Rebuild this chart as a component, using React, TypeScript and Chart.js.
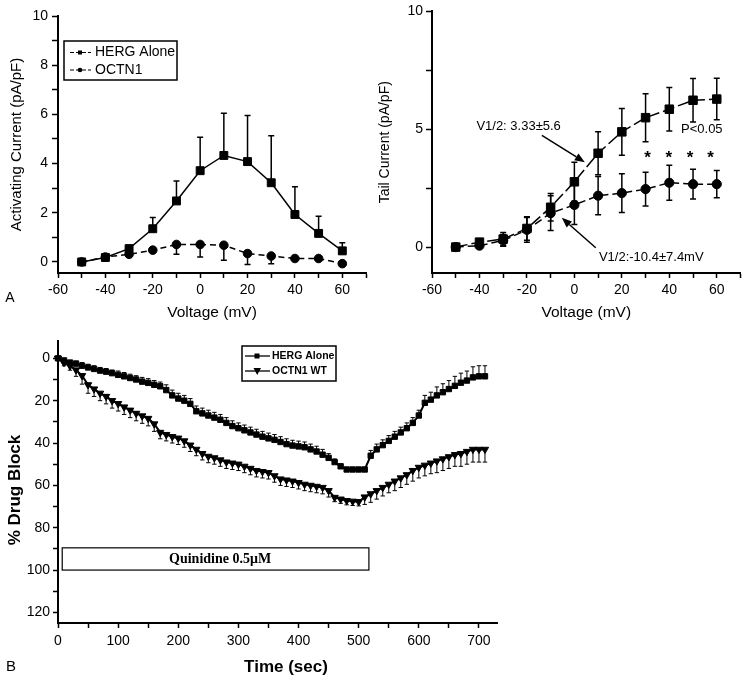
import React, { useEffect, useRef } from 'react';
import { Chart, registerables } from 'chart.js';

Chart.register(...registerables);

const SANS = '"Liberation Sans", Arial, Helvetica, sans-serif';
const SERIF = '"Liberation Serif", "Times New Roman", serif';

// ---------- Panel A data ----------
const voltages = [-50, -40, -30, -20, -10, 0, 10, 20, 30, 40, 50, 60];
const activatingHerg = [0, 0.18, 0.54, 1.35, 2.48, 3.71, 4.33, 4.08, 3.22, 1.93, 1.16, 0.45];
const activatingHergErr = [0, 0, 0.14, 0.46, 0.81, 1.36, 1.72, 1.87, 1.91, 1.13, 0.7, 0.33];
const activatingOctn = [0, 0.2, 0.31, 0.48, 0.71, 0.71, 0.68, 0.34, 0.24, 0.14, 0.14, -0.07];
const activatingOctnErr = [0, 0, 0, 0, 0.4, 0.51, 0.61, 0.44, 0.31, 0, 0, 0];

const tailHerg = [0, 0.21, 0.34, 0.79, 1.69, 2.77, 3.98, 4.89, 5.49, 5.85, 6.23, 6.28];
const tailHergErr = [0, 0.05, 0.28, 0.5, 0.58, 0.83, 0.91, 0.99, 1.02, 0.92, 0.92, 0.88];
const tailOctn = [0, 0.06, 0.28, 0.73, 1.44, 1.79, 2.18, 2.29, 2.46, 2.73, 2.67, 2.67];
const tailOctnErr = [0, 0.05, 0.25, 0.52, 0.74, 0.83, 0.81, 0.82, 0.72, 0.74, 0.63, 0.58];

const voltageTicks = [-60, -50, -40, -30, -20, -10, 0, 10, 20, 30, 40, 50, 60, 70];
const voltageLabels = [-60, -40, -20, 0, 20, 40, 60];
const activatingTicks = [0, 1, 2, 3, 4, 5, 6, 7, 8, 9, 10];
const activatingLabels = [0, 2, 4, 6, 8, 10];
const tailTicks = [0, 2.5, 5, 7.5, 10];
const tailLabels = [0, 5, 10];
const starVoltages = [30.8, 39.8, 48.7, 57.4];
const starLevel = 3.75;

// ---------- Panel B data ----------
const times = [0, 10, 20, 30, 40, 50, 60, 70, 80, 90, 100, 110, 120, 130, 140, 150, 160, 170, 180, 190,
  200, 210, 220, 230, 240, 250, 260, 270, 280, 290, 300, 310, 320, 330, 340, 350, 360, 370, 380, 390,
  400, 410, 420, 430, 440, 450, 460, 470, 480, 490, 500, 510, 520, 530, 540, 550, 560, 570, 580, 590,
  600, 610, 620, 630, 640, 650, 660, 670, 680, 690, 700, 710];
const blockHerg = [0, 1, 2, 2.5, 3.5, 4.3, 5, 5.8, 6.3, 7, 7.8, 8.5, 9.3, 10, 11, 11.6, 12.5, 13.2, 15, 17.5,
  19, 20, 21.5, 25, 26, 27, 28, 29, 30.5, 32, 33, 34, 35, 36, 37, 37.8, 38.5, 39.5, 40.5, 41.2,
  41.6, 42, 43, 44, 45.5, 47, 49, 51, 52.5, 52.5, 52.5, 52.5, 46, 43, 41, 39, 37, 35, 33, 30.5,
  27, 21, 19.5, 17.5, 16, 14.5, 13, 11.5, 10.5, 9, 8.5, 8.5];
const blockHergErr = [0.5, 1, 1, 1.2, 1.5, 1.5, 1.5, 1.5, 1.5, 1.5, 1.8, 1.8, 1.8, 1.8, 2, 2, 2, 2, 2.5, 2.5,
  2.5, 2.5, 2.5, 2.5, 2.5, 2.5, 2.5, 2.5, 2.5, 2.5, 2.5, 2.5, 2.5, 2.5, 2.5, 2.5, 2.5, 2.5, 2.5, 2.5,
  2.5, 2.5, 2.5, 2.5, 2.5, 2, 1.5, 1, 0.5, 0.5, 0.5, 0.5, 2.5, 2.5, 2.5, 2.5, 2.5, 2.5, 2.5, 2.5,
  2.5, 3.5, 3.5, 4, 4, 4, 4.5, 4.5, 4.5, 5, 5, 5];
const blockOctn = [0, 2, 3.6, 5.5, 8.2, 12.5, 14.5, 16.5, 18, 20, 21.4, 23, 24.5, 26, 27.2, 28.4, 31, 35, 36, 37,
  37.7, 39, 41, 43, 45, 46.3, 47, 48, 49, 49.5, 50, 51, 52, 53, 53.5, 54, 55.5, 57, 57.5, 58,
  58.7, 59.5, 60, 60.5, 61, 62.5, 65.7, 66.5, 67.2, 67.5, 67.7, 65.5, 64, 62.5, 61, 59.5, 58, 56.5, 55, 53,
  51.5, 50.5, 49.5, 48.5, 47.5, 46.5, 45.5, 45, 44, 43, 43, 43];
const blockOctnErr = [0.5, 1.5, 2, 3, 4, 4, 3.5, 3.5, 3.5, 3.5, 3.5, 3.5, 3.5, 3.5, 3.5, 3.5, 3.5, 3, 3, 3,
  3, 3, 3, 3, 3, 3, 3, 3, 3, 3, 3, 3, 3, 3, 3, 3, 3, 3, 3, 3,
  3, 3, 3, 3, 3, 3, 2, 2, 2, 2, 2, 3.5, 4, 4, 4, 4, 4.5, 4.5, 4.5, 5,
  5, 5, 5, 5.5, 5.5, 5.5, 5.5, 6, 6, 6, 6, 6];
const timeTicks = [0, 50, 100, 150, 200, 250, 300, 350, 400, 450, 500, 550, 600, 650, 700];
const timeLabels = [0, 100, 200, 300, 400, 500, 600, 700];
const blockTicks = [0, 10, 20, 30, 40, 50, 60, 70, 80, 90, 100, 110, 120];
const blockLabels = [0, 20, 40, 60, 80, 100, 120];
const quinidineStart = 7;
const quinidineEnd = 517;
const quinidineTop = 89.5;
const quinidineBottom = 100;

// ---------- helpers ----------
function makeScale(o: any) {
  const isX = o.axis === 'x';
  return {
    type: 'linear',
    position: isX ? 'bottom' : 'left',
    min: o.min,
    max: o.max,
    reverse: !!o.reverse,
    afterBuildTicks: (s: any) => { s.ticks = o.ticks.map((v: number) => ({ value: v })); },
    afterFit: (s: any) => { if (isX) s.height = o.size; else s.width = o.size; },
    grid: { display: true, drawOnChartArea: false, drawTicks: true, tickLength: o.tickLength, tickWidth: 1.5, tickColor: '#000', color: '#000' },
    border: { display: true, color: '#000', width: 2 },
    ticks: {
      autoSkip: false, maxRotation: 0, minRotation: 0, padding: o.padding, color: '#000',
      font: { family: SANS, size: o.fontSize },
      callback: (v: number) => (o.labels.includes(v) ? String(v) : ''),
    },
    title: o.title
      ? { display: true, text: o.title.text, color: '#000', font: { family: SANS, size: o.title.size, weight: o.title.weight || 'normal' }, padding: o.title.padding }
      : { display: false },
  };
}

const errorBarPlugin = {
  id: 'errorBars',
  beforeDatasetsDraw(chart: any) {
    const ctx = chart.ctx;
    chart.data.datasets.forEach((ds: any, di: number) => {
      const eb = ds.errorBars;
      if (!eb) return;
      const meta = chart.getDatasetMeta(di);
      const xs = chart.scales[meta.xAxisID];
      const ys = chart.scales[meta.yAxisID];
      ctx.save();
      ctx.strokeStyle = '#000';
      ctx.lineWidth = eb.width;
      ds.data.forEach((pt: any, i: number) => {
        const x = xs.getPixelForValue(pt.x);
        const y0 = ys.getPixelForValue(pt.y);
        const ends: number[] = [];
        if (eb.plus && eb.plus[i]) ends.push(ys.getPixelForValue(pt.y + eb.plus[i]));
        if (eb.minus && eb.minus[i]) ends.push(ys.getPixelForValue(pt.y - eb.minus[i]));
        ends.forEach((ye) => {
          ctx.beginPath();
          ctx.moveTo(x, y0);
          ctx.lineTo(x, ye);
          ctx.moveTo(x - eb.cap, ye);
          ctx.lineTo(x + eb.cap, ye);
          ctx.stroke();
        });
      });
      ctx.restore();
    });
  },
};

function text(ctx: any, s: string, x: number, y: number, font: string, align = 'center', rot = 0) {
  ctx.save();
  ctx.fillStyle = '#000';
  ctx.font = font;
  ctx.textAlign = align;
  ctx.textBaseline = 'middle';
  ctx.translate(x, y);
  if (rot) ctx.rotate(rot);
  ctx.fillText(s, 0, 0);
  ctx.restore();
}

function arrow(ctx: any, x1: number, y1: number, x2: number, y2: number) {
  const a = Math.atan2(y2 - y1, x2 - x1);
  const L = 10, W = 4;
  ctx.save();
  ctx.strokeStyle = '#000';
  ctx.fillStyle = '#000';
  ctx.lineWidth = 1.5;
  ctx.beginPath();
  ctx.moveTo(x1, y1);
  ctx.lineTo(x2 - L * Math.cos(a), y2 - L * Math.sin(a));
  ctx.stroke();
  ctx.beginPath();
  ctx.moveTo(x2, y2);
  ctx.lineTo(x2 - L * Math.cos(a) + W * Math.sin(a), y2 - L * Math.sin(a) - W * Math.cos(a));
  ctx.lineTo(x2 - L * Math.cos(a) - W * Math.sin(a), y2 - L * Math.sin(a) + W * Math.cos(a));
  ctx.closePath();
  ctx.fill();
  ctx.restore();
}

function pts(xs: number[], ys: number[]) {
  return xs.map((x, i) => ({ x, y: ys[i] }));
}

const baseOptions = {
  responsive: false,
  animation: false,
  events: [],
  plugins: { legend: { display: false }, tooltip: { enabled: false } },
};

// ---------- Panel A left ----------
function configActivating(): any {
  const legendPlugin = {
    id: 'legendA',
    afterDraw(chart: any) {
      const ctx = chart.ctx;
      ctx.save();
      ctx.strokeStyle = '#000';
      ctx.lineWidth = 1.5;
      ctx.strokeRect(64, 41, 113, 39);
      ctx.lineWidth = 1.2;
      ctx.setLineDash([4, 2]);
      [52.5, 70].forEach((y) => {
        ctx.beginPath();
        ctx.moveTo(70, y);
        ctx.lineTo(91, y);
        ctx.stroke();
      });
      ctx.setLineDash([]);
      ctx.fillStyle = '#000';
      ctx.fillRect(78, 50.5, 4, 4);
      ctx.beginPath();
      ctx.arc(80, 70, 2.3, 0, Math.PI * 2);
      ctx.fill();
      ctx.restore();
      text(ctx, 'HERG Alone', 95, 52.5, `14px ${SANS}`, 'left');
      text(ctx, 'OCTN1', 95, 70, `14px ${SANS}`, 'left');
      text(ctx, 'A', 10, 298, `14px ${SANS}`, 'center');
    },
  };
  return {
    type: 'line',
    data: {
      datasets: [
        {
          label: 'HERG Alone', data: pts(voltages, activatingHerg), borderColor: '#000', backgroundColor: '#000',
          borderWidth: 1.5, pointStyle: 'rect', pointRadius: 5.6, pointBorderWidth: 1, clip: false,
          errorBars: { plus: activatingHergErr, width: 1.5, cap: 3 },
        },
        {
          label: 'OCTN1', data: pts(voltages, activatingOctn), borderColor: '#000', backgroundColor: '#000',
          borderWidth: 1.5, borderDash: [6, 4], pointStyle: 'circle', pointRadius: 4.3, pointBorderWidth: 1, clip: false,
          errorBars: { minus: activatingOctnErr, width: 1.5, cap: 3 },
        },
      ],
    },
    options: {
      ...baseOptions,
      layout: { padding: { left: 0, top: 16, right: 8, bottom: 0 } },
      scales: {
        x: makeScale({ axis: 'x', min: -60, max: 70, ticks: voltageTicks, labels: voltageLabels, size: 57, tickLength: 5, padding: 4, fontSize: 14,
          title: { text: 'Voltage (mV)', size: 15.5, padding: { top: 0, bottom: 7.7 } } }),
        y: makeScale({ axis: 'y', min: -0.45, max: 10, ticks: activatingTicks, labels: activatingLabels, size: 58, tickLength: 6, padding: 4, fontSize: 14,
          title: { text: 'Activating Current (pA/pF)', size: 15, padding: { top: 8, bottom: 0 } } }),
      },
    },
    plugins: [errorBarPlugin, legendPlugin],
  };
}

// ---------- Panel A right ----------
function configTail(): any {
  const annot = {
    id: 'annotTail',
    afterDraw(chart: any) {
      const ctx = chart.ctx;
      const xs = chart.scales.x;
      const ys = chart.scales.y;
      const X = (v: number) => xs.getPixelForValue(v);
      const Y = (v: number) => ys.getPixelForValue(v);
      text(ctx, 'V1/2: 3.33±5.6', X(-23.5), Y(5.13), `13px ${SANS}`);
      arrow(ctx, X(-13.7), Y(4.74), X(4.4), Y(3.6));
      text(ctx, 'P<0.05', X(53.7), Y(5.0), `13px ${SANS}`);
      starVoltages.forEach((v) => text(ctx, '*', X(v), Y(starLevel), `bold 17px ${SANS}`));
      text(ctx, 'V1/2:-10.4±7.4mV', X(32.4), Y(-0.45), `13px ${SANS}`);
      arrow(ctx, X(9.0), Y(-0.03), X(-5.3), Y(1.24));
    },
  };
  return {
    type: 'line',
    data: {
      datasets: [
        {
          label: 'HERG Alone', data: pts(voltages, tailHerg), borderColor: '#000', backgroundColor: '#000',
          borderWidth: 1.5, borderDash: [12, 4], pointStyle: 'rect', pointRadius: 6, pointBorderWidth: 1, clip: false,
          errorBars: { plus: tailHergErr, minus: tailHergErr, width: 1.5, cap: 3 },
        },
        {
          label: 'OCTN1', data: pts(voltages, tailOctn), borderColor: '#000', backgroundColor: '#000',
          borderWidth: 1.5, borderDash: [8, 4], pointStyle: 'circle', pointRadius: 4.6, pointBorderWidth: 1, clip: false,
          errorBars: { plus: tailOctnErr, minus: tailOctnErr, width: 1.5, cap: 3 },
        },
      ],
    },
    options: {
      ...baseOptions,
      layout: { padding: { left: 0, top: 11, right: 7.5, bottom: 0 } },
      scales: {
        x: makeScale({ axis: 'x', min: -60, max: 70, ticks: voltageTicks, labels: voltageLabels, size: 57, tickLength: 5, padding: 4, fontSize: 14,
          title: { text: 'Voltage (mV)', size: 15.5, padding: { top: 0, bottom: 7.7 } } }),
        y: makeScale({ axis: 'y', min: -1.1, max: 10, ticks: tailTicks, labels: tailLabels, size: 58, tickLength: 6, padding: 3, fontSize: 14,
          title: { text: 'Tail Current (pA/pF)', size: 14, padding: { top: 2.6, bottom: 0 } } }),
      },
    },
    plugins: [errorBarPlugin, annot],
  };
}

// ---------- Panel B ----------
function configBlock(): any {
  const annot = {
    id: 'annotBlock',
    afterDraw(chart: any) {
      const ctx = chart.ctx;
      const xs = chart.scales.x;
      const ys = chart.scales.y;
      // Quinidine box
      const bx1 = xs.getPixelForValue(quinidineStart);
      const bx2 = xs.getPixelForValue(quinidineEnd);
      const by1 = ys.getPixelForValue(quinidineTop);
      const by2 = ys.getPixelForValue(quinidineBottom);
      ctx.save();
      ctx.fillStyle = '#fff';
      ctx.fillRect(bx1, by1, bx2 - bx1, by2 - by1);
      ctx.strokeStyle = '#000';
      ctx.lineWidth = 1.2;
      ctx.strokeRect(bx1, by1, bx2 - bx1, by2 - by1);
      ctx.restore();
      text(ctx, 'Quinidine 0.5μM', (bx1 + bx2) / 2 + 4.5, (by1 + by2) / 2, `bold 14px ${SERIF}`);
      // legend
      ctx.save();
      ctx.strokeStyle = '#000';
      ctx.lineWidth = 1.5;
      ctx.strokeRect(242, 16, 94, 35);
      ctx.lineWidth = 1.3;
      [26, 41].forEach((y) => {
        ctx.beginPath();
        ctx.moveTo(245, y);
        ctx.lineTo(270, y);
        ctx.stroke();
      });
      ctx.fillStyle = '#000';
      ctx.fillRect(254.5, 23.5, 5, 5);
      ctx.beginPath();
      ctx.moveTo(253.5, 38);
      ctx.lineTo(261, 38);
      ctx.lineTo(257.2, 45);
      ctx.closePath();
      ctx.fill();
      ctx.restore();
      text(ctx, 'HERG Alone', 272, 26, `bold 10.5px ${SANS}`, 'left');
      text(ctx, 'OCTN1 WT', 272, 41, `bold 10.5px ${SANS}`, 'left');
      // axis titles and panel letter
      text(ctx, '% Drug Block', 15, 160, `bold 17px ${SANS}`, 'center', -Math.PI / 2);
      text(ctx, 'Time (sec)', 286, 337, `bold 17px ${SANS}`, 'center');
      text(ctx, 'B', 11, 337, `15px ${SANS}`, 'center');
    },
  };
  return {
    type: 'line',
    data: {
      datasets: [
        {
          label: 'HERG Alone', data: pts(times, blockHerg), borderColor: '#000', backgroundColor: '#000',
          borderWidth: 2, pointStyle: 'rect', pointRadius: 3.8, pointBorderWidth: 1, clip: false,
          errorBars: { minus: blockHergErr, width: 1, cap: 2.2 },
        },
        {
          label: 'OCTN1 WT', data: pts(times, blockOctn), borderColor: '#000', backgroundColor: '#000',
          borderWidth: 2, pointStyle: 'triangle', pointRotation: 180, pointRadius: 4.2, pointBorderWidth: 1, clip: false,
          errorBars: { plus: blockOctnErr, width: 1, cap: 2.2 },
        },
      ],
    },
    options: {
      ...baseOptions,
      layout: { padding: { left: 0, top: 7, right: 251, bottom: 0 } },
      scales: {
        x: makeScale({ axis: 'x', min: 0, max: 730, ticks: timeTicks, labels: timeLabels, size: 59, tickLength: 5, padding: 5, fontSize: 14 }),
        y: makeScale({ axis: 'y', min: -8, max: 125, reverse: true, ticks: blockTicks, labels: blockLabels, size: 58, tickLength: 5, padding: 3, fontSize: 14 }),
      },
    },
    plugins: [errorBarPlugin, annot],
  };
}

function ChartCanvas({ left, top, width, height, make }: any) {
  const ref = useRef<HTMLCanvasElement | null>(null);
  useEffect(() => {
    const chart = new Chart(ref.current as HTMLCanvasElement, make());
    return () => chart.destroy();
  }, []);
  return (
    <canvas
      ref={ref}
      width={width}
      height={height}
      style={{ position: 'absolute', left, top, width, height, display: 'block' }}
    />
  );
}

export default function App() {
  return (
    <div style={{ position: 'absolute', left: 0, top: 0, width: 748, height: 682, background: '#fff', overflow: 'hidden' }}>
      <ChartCanvas left={0} top={0} width={374} height={330} make={configActivating} />
      <ChartCanvas left={374} top={0} width={374} height={330} make={configTail} />
      <ChartCanvas left={0} top={330} width={748} height={352} make={configBlock} />
    </div>
  );
}
